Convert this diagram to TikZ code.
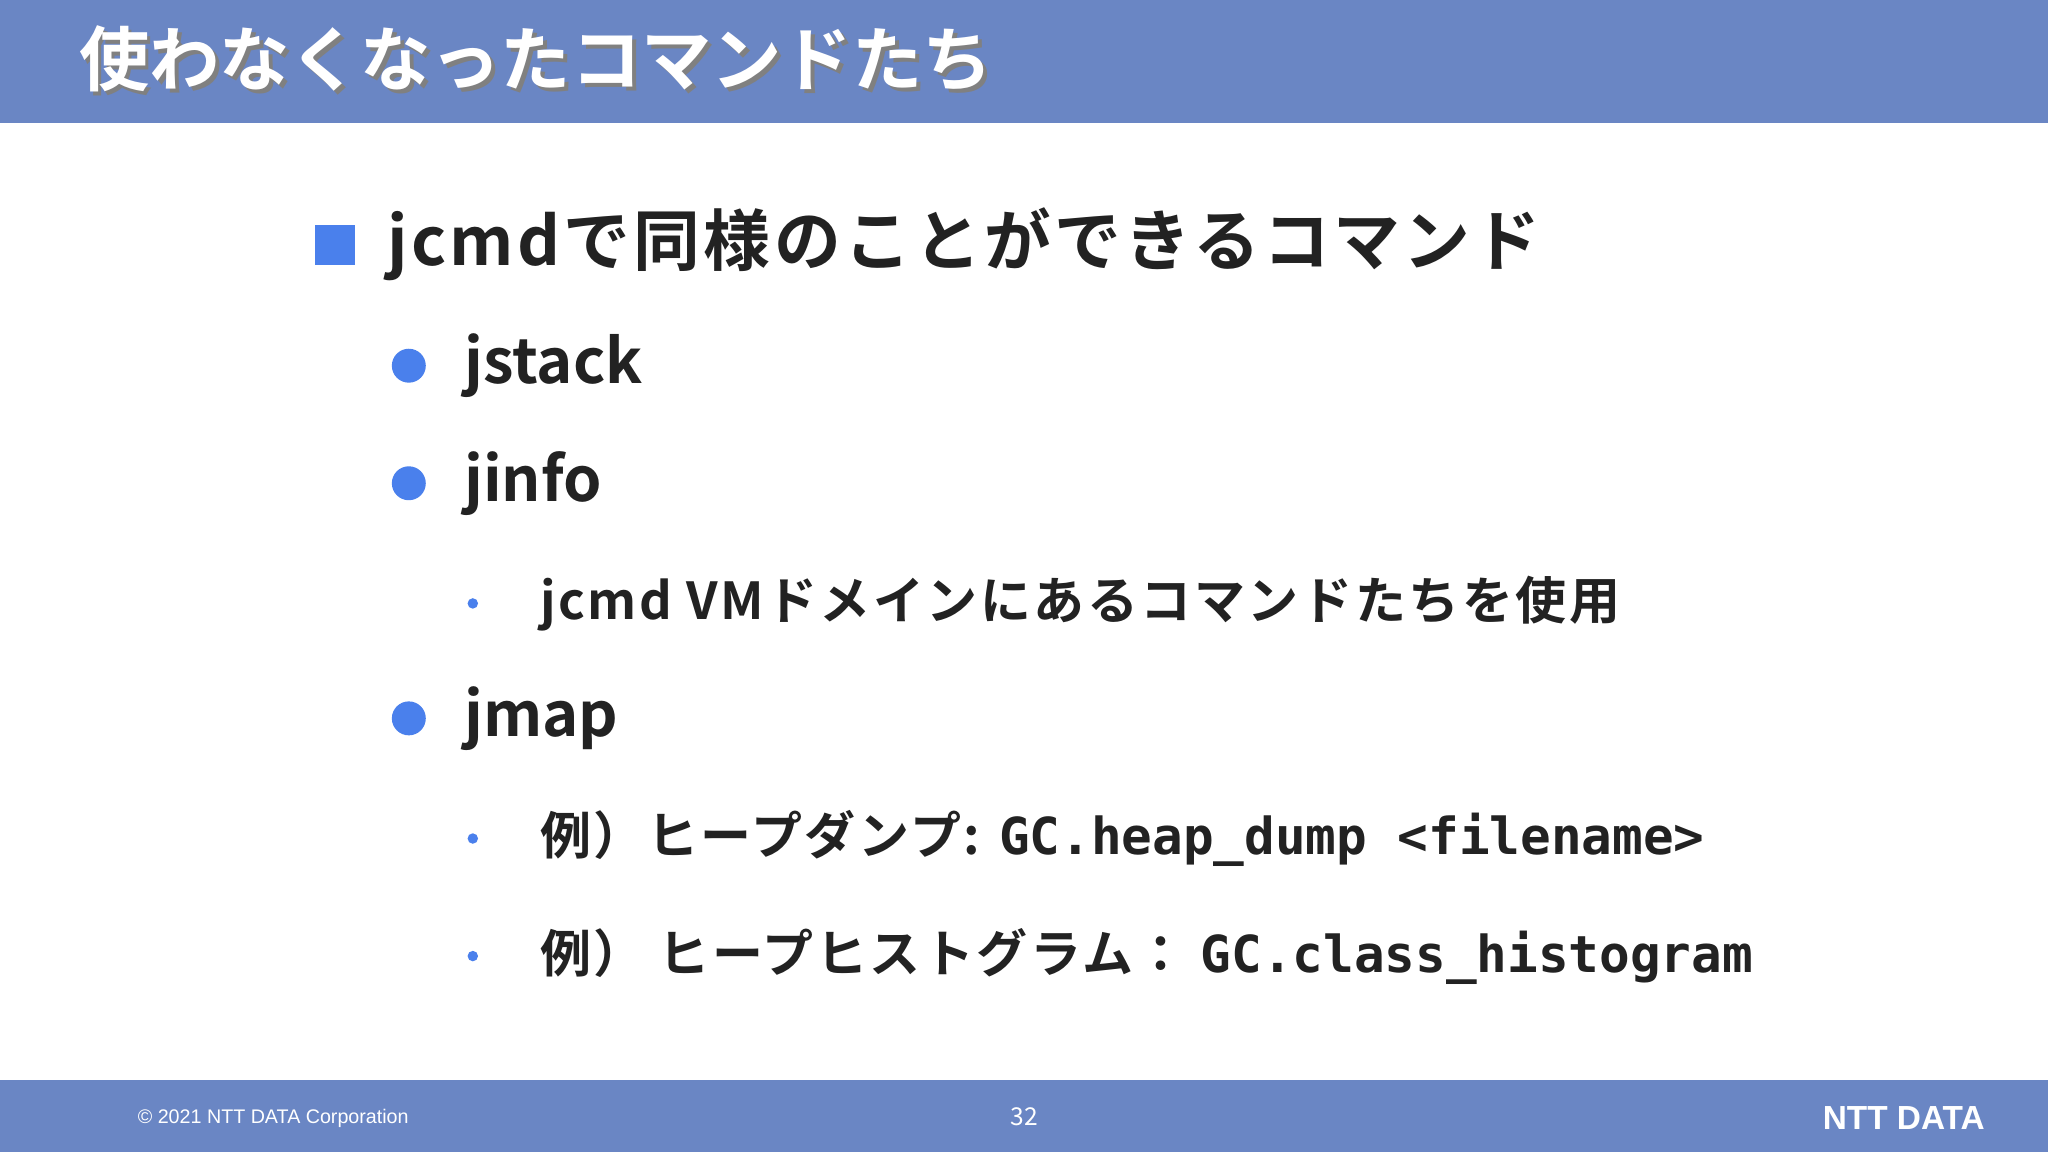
\documentclass[tikz,border=0pt]{standalone}
\usepackage{fontspec}
\setmainfont{Noto Sans CJK JP}
\newfontfamily\jp{Noto Sans CJK JP}
\newfontfamily\jpb{Noto Sans CJK JP}[BoldFont={* Bold}]
\newfontfamily\jpbs{Noto Sans CJK JP Bold}[LetterSpace=5]
\newfontfamily\monob{DejaVu Sans Mono}
\newfontfamily\ftr{Liberation Sans}
\definecolor{band}{HTML}{6A86C4}
\definecolor{blt}{HTML}{4A80EC}
\definecolor{txt}{HTML}{222222}
\tikzset{
 lvl/.style={anchor=west,inner sep=0,text=txt},
 big/.style={lvl,font=\jpbs\fontsize{19}{22}\selectfont},
 mid/.style={lvl,font=\jpb\bfseries\fontsize{17.5}{20}\selectfont},
 sml/.style={lvl,font=\jpbs\fontsize{14.5}{17}\selectfont},
}
\begin{document}
\begin{tikzpicture}[x=0.013061cm,y=-0.013061cm]
\useasboundingbox (0,0) rectangle (1568,882);
\fill[white] (0,0) rectangle (1568,882);
\fill[band] (0,0) rectangle (1568,94);
\fill[band] (0,827) rectangle (1568,882);
\node[lvl,text=black!50,font=\jpb\bfseries\fontsize{20}{24}\selectfont] at (63,48) {使わなくなったコマンドたち};
\node (title) [lvl,text=white,font=\jpb\bfseries\fontsize{20}{24}\selectfont] at (60,45) {使わなくなったコマンドたち};
\fill[blt] (241,172) rectangle (272,203);
\node (h) [big] at (296,187) {jcmdで同様のことができるコマンド};
\fill[blt] (313,280) circle (13);
\node (a) [mid] at (355,280) {jstack};
\fill[blt] (313,370) circle (13);
\node (b) [mid] at (355,370) {jinfo};
\fill[blt] (362,462) circle (4);
\node (b1) [sml] at (413,462) {jcmd VMドメインにあるコマンドたちを使用};
\fill[blt] (313,550) circle (13);
\node (c) [mid] at (355,550) {jmap};
\fill[blt] (362,642) circle (4);
\node (c1) [sml] at (413,642) {例）ヒープダンプ: {\monob\bfseries GC.heap\_dump <filename>}};
\fill[blt] (362,732) circle (4);
\node (c2) [sml] at (413,732) {例） ヒープヒストグラム： {\monob\bfseries GC.class\_histogram}};
\node (f1) [lvl,text=white,font=\ftr\fontsize{5.6}{7}\selectfont] at (105,856) {© 2021 NTT DATA Corporation};
\node (f2) [inner sep=0,text=white,font=\jp\fontsize{7}{8}\selectfont] at (784,855) {32};
\node (logo) [lvl,text=white,font=\ftr\bfseries\fontsize{9.5}{10}\selectfont] at (1395,856) {NTT DATA};
\end{tikzpicture}
\end{document}
